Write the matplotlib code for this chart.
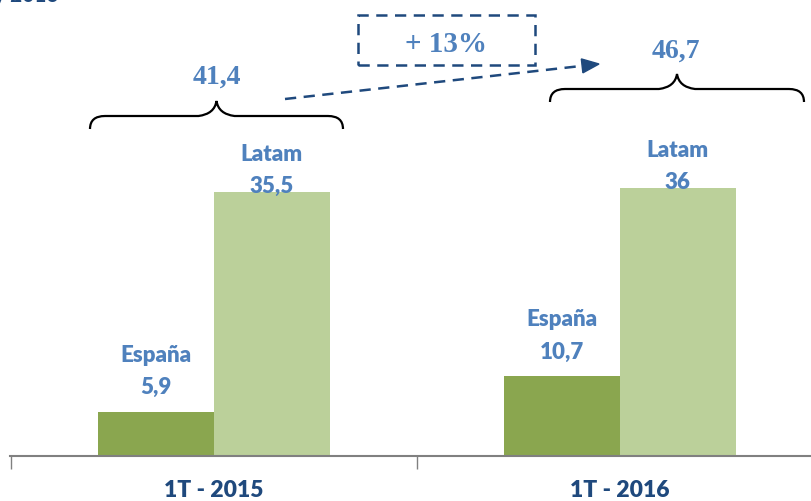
import matplotlib
matplotlib.use("Agg")
import matplotlib.pyplot as plt
from matplotlib.path import Path
from matplotlib.patches import PathPatch, Rectangle, Polygon
from matplotlib.lines import Line2D
import numpy as np

# data
periods = ["1T - 2015", "1T - 2016"]
espana = [5.9, 10.7]
latam = [35.5, 36]
espana_lbl = ["5,9", "10,7"]
latam_lbl = ["35,5", "36"]
total_lbl = ["41,4", "46,7"]
growth_lbl = "+ 13%"

c_esp = "#8AA64F"
c_lat = "#BBD09A"
c_txt = "#4F81BD"
c_dark = "#1F497D"
sans = ["Lato", "DejaVu Sans"]
serif = ["Liberation Serif", "DejaVu Serif"]

W, H = 812, 502
fig = plt.figure(figsize=(W / 100, H / 100), dpi=100)
ax = fig.add_axes([10 / W, 45 / H, 802 / W, 457 / H])

x = np.arange(len(periods))
w = 0.285
ax.bar(x - w / 2, espana, w, color=c_esp, zorder=2)
ax.bar(x + w / 2, latam, w, color=c_lat, zorder=2)
ax.set_xlim(-0.502, 1.473)
ax.set_ylim(0, 61.4)

for s in ["top", "right", "left"]:
    ax.spines[s].set_visible(False)
ax.spines["bottom"].set_color("#808080")
ax.spines["bottom"].set_linewidth(1.5)
ax.set_yticks([])
ax.set_xticks([-0.5, 0.5])
ax.set_xticklabels([])
ax.tick_params(axis="x", length=9, width=1, color="#808080", direction="out")

lab = dict(ha="center", va="center", fontsize=16, fontweight="heavy",
           color=c_txt, family=sans)
for i in range(len(periods)):
    ax.text(x[i], -4.5, periods[i], ha="center", va="center", fontsize=16.5,
            fontweight="heavy", color=c_dark, family=sans)
    ax.text(x[i] - w / 2, espana[i] + 3.4, espana_lbl[i], **lab)
    ax.text(x[i] - w / 2, espana[i] + 7.75, "España", **lab)
    ax.text(x[i] + w / 2, latam[i] + 0.9, latam_lbl[i], **lab)
    ax.text(x[i] + w / 2, latam[i] + 5.2, "Latam", **lab)


def px(xp, yp):
    return (xp / W, 1 - yp / H)


def brace(x0, x1, yb, tip):
    xm = (x0 + x1) / 2
    pts = [(x0, yb + 13), (x0, yb), (x0 + 15, yb), (x0 + 15, yb),
           (xm - 18, yb), (xm - 18, yb), (xm - 2, yb - 2), (xm, yb - tip),
           (xm + 2, yb - 2), (xm + 18, yb), (xm + 18, yb),
           (x1 - 15, yb), (x1 - 15, yb), (x1, yb), (x1, yb + 13)]
    codes = [Path.MOVETO, Path.CURVE3, Path.CURVE3, Path.LINETO,
             Path.LINETO, Path.LINETO, Path.CURVE3, Path.CURVE3,
             Path.CURVE3, Path.CURVE3, Path.LINETO,
             Path.LINETO, Path.LINETO, Path.CURVE3, Path.CURVE3]
    p = Path([px(*q) for q in pts], codes)
    fig.add_artist(PathPatch(p, facecolor="none", edgecolor="black", lw=1.6,
                             transform=fig.transFigure))


brace(90, 343, 117, 15)
brace(550, 804, 90, 15)

big = dict(ha="center", va="center", fontsize=20, fontweight="bold",
           color=c_txt, family=serif)
fig.text(*px(217, 77), total_lbl[0], **big)
fig.text(*px(676, 51), total_lbl[1], **big)

box = Rectangle(px(358, 66), 177 / W, 50 / H, transform=fig.transFigure,
                facecolor="none", edgecolor=c_dark, lw=1.8, linestyle=(0, (4.5, 3)))
fig.add_artist(box)
fig.text(*px(446, 44), growth_lbl, ha="center", va="center", fontsize=21,
         fontweight="bold", color=c_txt, family=serif)

# dashed growth arrow with solid head
p0 = np.array([285.0, 100.0])
p1 = np.array([599.0, 65.0])
d = (p1 - p0) / np.linalg.norm(p1 - p0)
nrm = np.array([-d[1], d[0]])
base = p1 - 17 * d
fig.add_artist(Line2D(*zip(px(*p0), px(*base)), transform=fig.transFigure,
                      color=c_dark, lw=1.8, linestyle=(0, (4.5, 3))))
tri = [px(*p1), px(*(base + 7 * nrm)), px(*(base - 7 * nrm))]
fig.add_artist(Polygon(tri, closed=True, transform=fig.transFigure,
                       facecolor=c_dark, edgecolor=c_dark))

# subtitle cut off at the very top, as in the source
fig.text(*px(-6, 2), "y 2016", ha="left", va="baseline", fontsize=15,
         fontweight="bold", color=c_dark, family=sans)

fig.savefig("out.png", dpi=100)
